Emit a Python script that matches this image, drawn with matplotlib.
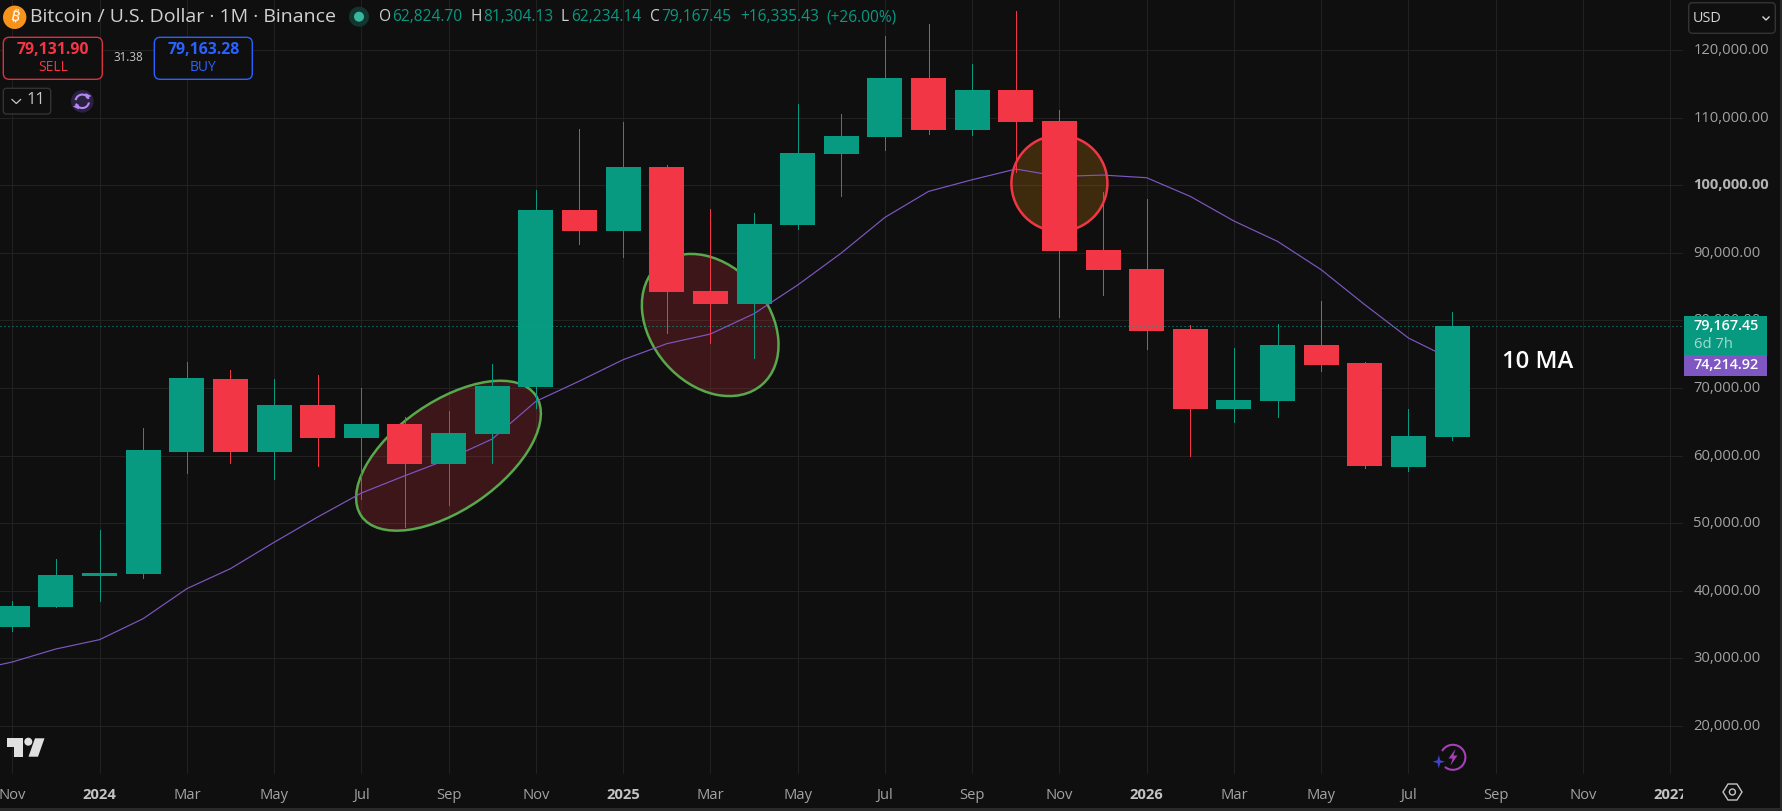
import matplotlib
matplotlib.use("Agg")
import matplotlib.pyplot as plt
from matplotlib.patches import Arc, Circle, Ellipse, FancyBboxPatch, Polygon, Rectangle
from matplotlib.transforms import Bbox, ScaledTranslation

# ================= data =================
# months since Nov 2023
opens = [34598, 37655, 42240, 42535, 60579, 71376, 60579, 67530, 62650, 64720, 58804,
         63241, 70193, 96371, 93265, 102731, 84391, 82468, 94153, 104653, 107168, 115894,
         108203, 114119, 109534, 90455, 87645, 78771, 66939, 68122, 76404, 73742, 58361, 62824.70]
highs = [38542, 44754, 49043, 64129, 73890, 72707, 71376, 71967, 70045, 65756, 66643,
         73594, 99329, 108351, 109386, 103027, 96519, 95927, 112048, 110569, 122106, 123880,
         117964, 125803, 111161, 99033, 97998, 79362, 75961, 79510, 82912, 73890, 66939, 81304.13]
lows = [34105, 37600, 38542, 41944, 57473, 58952, 56586, 58508, 53628, 49388, 52740,
        58952, 67038, 91342, 89420, 78179, 76700, 74482, 93561, 98442, 105245, 107611,
        107463, 102000, 80546, 83799, 75813, 59988, 65016, 65756, 72560, 58212, 57769, 62234.14]
closes = [37803, 42387, 42683, 60875, 71524, 60579, 67530, 62650, 64720, 58804, 63389,
          70341, 96371, 93265, 102731, 84243, 82468, 94300, 104801, 107316, 115894, 108203,
          114119, 109386, 90307, 87497, 78475, 66939, 68270, 76404, 73447, 58509, 62946, 79167.45]

ma_start = -1
ma_values = [28060, 29470, 31393, 32774, 35880, 40317, 43275, 47170, 50916, 54466, 57030,
             59495, 62453, 68023, 71031, 74186, 76552, 77982, 80989, 85230, 89962, 95237,
             99082, 100808, 102386, 101300, 101498, 101104, 98343, 94700, 91687, 87497,
             82320, 77390, 74214.92]

price_ticks = [20000, 30000, 40000, 50000, 60000, 70000, 80000, 90000, 100000, 110000, 120000]
month_ticks = list(range(0, 40, 2))
month_labels = ["Nov", "2024", "Mar", "May", "Jul", "Sep", "Nov", "2025", "Mar", "May", "Jul",
                "Sep", "Nov", "2026", "Mar", "May", "Jul", "Sep", "Nov", "2027"]
last_price = 79167.45
# ===========================================================

BG = "#0f0f0f"
GRID = "#212121"
GREEN = "#089981"
RED = "#f23645"
BLUE = "#2962ff"
PURPLE = "#7e57c2"
TEXT = "#a3a3a3"
LIGHT = "#d1d1d1"
FONT = ["Open Sans", "DejaVu Sans"]

W, H = 1782, 811
PLOT_R, PLOT_B = 1683, 774

plt.rcParams["font.family"] = FONT

fig = plt.figure(figsize=(W / 100, H / 100), dpi=100, facecolor=BG)
ax = fig.add_axes([0, 1 - PLOT_B / H, PLOT_R / W, PLOT_B / H], facecolor=BG)

# pixel overlay for the interface bits, y runs downwards like the screenshot
ui = fig.add_axes([0, 0, 1, 1], facecolor="none")
ui.set_xlim(0, W)
ui.set_ylim(H, 0)
ui.axis("off")
ui.set_zorder(5)

# axes scale: 43.63 px per month, 67.6 px per 10k
ax.set_xlim(-12.3 / 43.63, (PLOT_R - 12.3) / 43.63)
ax.set_ylim(120000 - (PLOT_B - 50) * 147.93, 120000 + 50 * 147.93)

for side in ax.spines.values():
    side.set_visible(False)
ax.set_axisbelow(True)
ax.grid(True, color=GRID, linewidth=0.72, antialiased=False)

ax.yaxis.tick_right()
ax.set_yticks(price_ticks)
ax.set_yticklabels([f"{p:,.2f}" for p in price_ticks], fontsize=10.6, color=TEXT)
ax.tick_params(axis="y", length=0, pad=7.5)
ax.set_xticks(month_ticks)
ax.set_xticklabels(month_labels, fontsize=10.6, color=TEXT)
ax.tick_params(axis="x", length=0, pad=10)

plot_clip = Bbox([[0, 0], [PLOT_R, H]])
for label in ax.get_xticklabels():
    label.set_clip_box(plot_clip)
    label.set_clip_on(True)
    if label.get_text().isdigit():
        label.set_fontweight("bold")
        label.set_color("#c4c4c4")
nudge_up = ScaledTranslation(0, 1.5 / 100, fig.dpi_scale_trans)
for label in ax.get_yticklabels():
    label.set_transform(label.get_transform() + nudge_up)
    if label.get_text().startswith("100,"):
        label.set_fontweight("bold")
        label.set_color("#b4b4b4")

# highlighted zones sit under the candles
pixel = ui.transData
for xy, w, h, angle, edge, face in [
    ((448.5, 455.7), 212, 108, -34.75, "#58a84c", RED),
    ((710.2, 325.0), 158, 118, 49, "#58a84c", RED),
    ((1059.4, 183.3), 96, 96, 0, RED, "#ff9800"),
]:
    ax.add_patch(Ellipse(xy, w, h, angle=angle, transform=pixel, facecolor=face, alpha=0.2,
                         edgecolor="none", zorder=1))
    ax.add_patch(Ellipse(xy, w, h, angle=angle, transform=pixel, facecolor="none",
                         edgecolor=edge, linewidth=1.8, zorder=1.1))

ma_x = [ma_start + n for n in range(len(ma_values))]
ax.plot(ma_x, ma_values, color=PURPLE, linewidth=0.85, zorder=2)

# candles
for i in range(len(opens)):
    color = GREEN if closes[i] >= opens[i] else RED
    ax.vlines(i, lows[i], highs[i], color=color, linewidth=0.7, zorder=3, antialiased=False)
    ax.bar(i, abs(closes[i] - opens[i]), bottom=min(opens[i], closes[i]), width=35 / 43.63,
           color=color, linewidth=0, zorder=3.1)

ax.axhline(last_price, color="#0aa88e", linewidth=0.72, linestyle=(0, (1, 3)), zorder=4)


def ui_text(x, y, s, color=LIGHT, size=10.6, ha="left", weight="normal", **kw):
    return ui.text(x, y, s, color=color, fontsize=size, ha=ha, va="center", fontweight=weight, **kw)


def ui_box(x0, y0, x1, y1, edge, face=BG, radius=6, lw=1.0):
    ui.add_patch(FancyBboxPatch((x0 + radius, y0 + radius), x1 - x0 - 2 * radius, y1 - y0 - 2 * radius,
                                boxstyle=f"round,pad={radius},rounding_size={radius}",
                                edgecolor=edge, facecolor=face, linewidth=lw))


# header
ui.add_patch(Circle((14.7, 17.3), 11.7, color="#f7931a", linewidth=0))
ui_text(14.7, 17.0, "₿", color="white", size=11, ha="center", weight="bold",
        family=["Noto Sans", "Inter", "Roboto", "Lato", "Open Sans", "DejaVu Sans"], rotation=-12)
ui_text(30.5, 17, "Bitcoin / U.S. Dollar · 1M · Binance", size=14)
ui.add_patch(Circle((359, 16.7), 10, color="#12362f", linewidth=0))
ui.add_patch(Circle((359, 16.7), 5, color="#37b79b", linewidth=0))
for x, s, color in [
    (379, "O", LIGHT), (392, "62,824.70", GREEN),
    (470, "H", LIGHT), (483, "81,304.13", GREEN),
    (561, "L", LIGHT), (571, "62,234.14", GREEN),
    (650, "C", LIGHT), (661, "79,167.45", GREEN),
    (740.5, "+16,335.43", GREEN), (826.5, "(+26.00%)", GREEN),
]:
    ui_text(x, 17, s, color=color, size=11.2)

# sell / buy buttons
ui_box(3.3, 37.3, 102.3, 79.3, "#d9323f")
ui_text(53.3, 50, "79,131.90", color=RED, size=11.4, ha="center", weight="bold")
ui_text(53.3, 67.3, "SELL", color=RED, size=10, ha="center")
ui_text(128.3, 57.5, "31.38", color="#c8c8c8", size=8.4, ha="center")
ui_box(154.3, 37.3, 252.3, 79.3, BLUE)
ui_text(203.3, 50, "79,163.28", color=BLUE, size=11.4, ha="center", weight="bold")
ui_text(203.3, 67.3, "BUY", color=BLUE, size=10, ha="center")

# indicator collapse + sync icon
ui_box(3.3, 88.3, 50.7, 114, "#333333", radius=3)
ui.plot([12, 16.3, 20.6], [99.5, 103.5, 99.5], color="#c8c8c8", linewidth=0.9)
ui_text(36, 100.5, "11", color="#c8c8c8", size=11.8, ha="center")
ui.add_patch(Circle((82.3, 101.3), 11.3, color="#2a2040", linewidth=0))
ui.add_patch(Arc((82.3, 101.3), 13.5, 13.5, theta1=190, theta2=340, color="#b388f5", linewidth=1.5))
ui.add_patch(Arc((82.3, 101.3), 13.5, 13.5, theta1=10, theta2=160, color="#b388f5", linewidth=1.5))
ui.add_patch(Polygon([(85.5, 93), (91.5, 96), (86, 98.5)], color="#b388f5", linewidth=0))
ui.add_patch(Polygon([(79, 109.5), (73, 106.5), (78.5, 104)], color="#b388f5", linewidth=0))

# price scale bits
ui_box(1688.7, 2.7, 1775.3, 33.3, "#333333", radius=4)
ui_text(1693, 18, "USD", color="#d6d6d6", size=10.4)
ui.plot([1763, 1766, 1769], [17, 20, 17], color="#d6d6d6", linewidth=1.0)

ui.add_patch(Rectangle((1684, 316), 82.7, 39.3, color=GREEN, linewidth=0))
ui_text(1694, 325.7, f"{last_price:,.2f}", color="white", size=10.4, weight="semibold")
ui_text(1694, 344, "6d 7h", color="#a3dcd0", size=10.6)
ui.add_patch(Rectangle((1684, 355.3), 82.7, 20.7, color=PURPLE, linewidth=0))
ui_text(1694, 365, f"{ma_values[-1]:,.2f}", color="white", size=10.4, weight="semibold")

ui_text(1502, 362.5, "10 MA", color="white", size=17.2, weight="semibold")

# TradingView logo
for pts in [
    [(7.3, 738.3), (22.7, 738.3), (22.7, 756.7), (14.3, 756.7), (14.3, 746.5), (7.3, 746.5)],
    [(35, 738.3), (44.5, 738.3), (38, 756.7), (28.5, 756.7)],
]:
    ui.add_patch(Polygon(pts, color="#e0e0e0", linewidth=0))
ui.add_patch(Circle((28.3, 741.7), 4, color="#e0e0e0", linewidth=0))

# lightning badge near the last candle
ui.add_patch(Arc((1452.9, 757.3), 25, 25, theta1=-150, theta2=130, color="#a63fb8", linewidth=1.5))
ui.add_patch(Polygon([(1455.5, 749), (1448.5, 758.5), (1452.5, 758.5), (1450.5, 765.5),
                      (1457.5, 755.5), (1453.5, 755.5)], color="#a63fb8", linewidth=0))
ui.add_patch(Polygon([(1438.8, 755), (1440.2, 760.3), (1445, 761.7), (1440.2, 763.1),
                      (1438.8, 768.5), (1437.4, 763.1), (1432.6, 761.7), (1437.4, 760.3)],
                     color="#4343c8", linewidth=0))

# settings hexagon
ui.add_patch(Polygon([(1723, 792), (1728, 784), (1737, 784), (1742, 792), (1737, 800), (1728, 800)],
                     closed=True, fill=False, edgecolor="#c4c4c4", linewidth=1.0))
ui.add_patch(Circle((1732.4, 792), 3, fill=False, edgecolor="#c4c4c4", linewidth=1.0))

# window edges
ui.add_patch(Rectangle((0, 808), W, 3, color="#2a2a2a", linewidth=0))
ui.add_patch(Rectangle((1780, 0), 2, H, color="#2a2a2a", linewidth=0))

fig.savefig("out.png", dpi=100, facecolor=BG)
